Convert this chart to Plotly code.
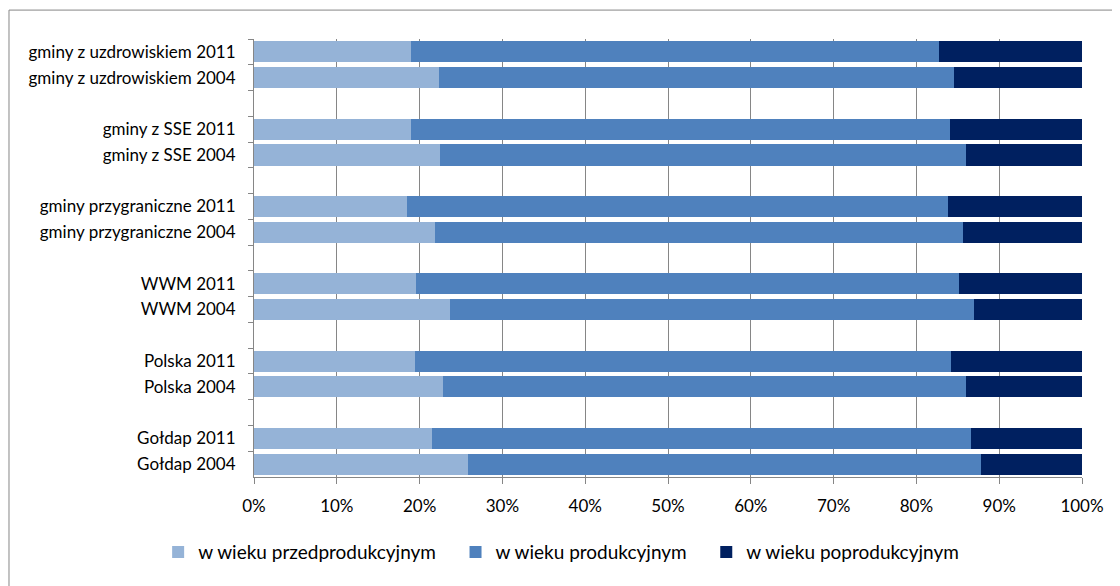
import plotly.graph_objects as go

categories = [
    "gminy z uzdrowiskiem 2011", "gminy z uzdrowiskiem 2004", " ",
    "gminy z SSE 2011", "gminy z SSE 2004", "  ",
    "gminy przygraniczne 2011", "gminy przygraniczne 2004", "   ",
    "WWM 2011", "WWM 2004", "    ",
    "Polska 2011", "Polska 2004", "     ",
    "Gołdap 2011", "Gołdap 2004",
]
pre = [19.0, 22.3, None, 19.0, 22.5, None, 18.5, 21.9, None, 19.6, 23.7, None, 19.4, 22.8, None, 21.5, 25.9]
post = [17.3, 15.5, None, 15.9, 14.0, None, 16.2, 14.4, None, 14.8, 13.1, None, 15.8, 14.0, None, 13.4, 12.2]
prod = [None if a is None else round(100 - a - b, 1) for a, b in zip(pre, post)]

series_names = ["w wieku przedprodukcyjnym", "w wieku produkcyjnym", "w wieku poprodukcyjnym"]
colors = ["#95B3D7", "#4F81BD", "#002060"]
tick_vals = list(range(0, 101, 10))
tick_text = [f"{v}%" for v in tick_vals]

fig = go.Figure()
for name, vals, col in zip(series_names, [pre, prod, post], colors):
    fig.add_trace(go.Bar(
        y=categories, x=vals, name=name + "\u00a0\u00a0\u00a0", orientation="h",
        marker=dict(color=col, line=dict(width=0)),
        hovertemplate="%{y}: %{x}%<extra>" + name + "</extra>",
    ))

font_family = "Lato, 'Liberation Sans', sans-serif"
# page body has an 8px margin, so the figure is sized 1112x578 and offset accordingly
fig.update_layout(
    barmode="stack",
    bargap=0.18,
    width=1112, height=578,
    margin=dict(l=246, r=38, t=31, b=109),
    paper_bgcolor="white", plot_bgcolor="white",
    font=dict(family=font_family, size=17, color="#000000"),
    showlegend=True,
    legend=dict(orientation="h", x=0.38, xanchor="center", y=-0.128, yanchor="top",
                font=dict(size=19), itemwidth=30, traceorder="normal"),
    xaxis=dict(
        range=[0, 100], tickvals=tick_vals, ticktext=tick_text,
        showgrid=True, gridcolor="#868686", gridwidth=1,
        showline=True, linecolor="#868686", linewidth=1,
        ticks="outside", ticklen=6, tickcolor="#868686",
        zeroline=False, fixedrange=True, ticklabelstandoff=8,
    ),
    yaxis=dict(
        type="category", categoryorder="array", categoryarray=categories,
        autorange="reversed",
        showline=True, linecolor="#868686", linewidth=1,
        ticks="outside", ticklen=5, tickcolor="#868686", tickson="boundaries",
        showgrid=False, fixedrange=True, ticklabelstandoff=14,
    ),
    shapes=[
        dict(type="line", xref="paper", yref="paper", x0=-0.2959, x1=1.06, y0=1.066, y1=1.066,
             line=dict(color="#868686", width=1)),
        dict(type="line", xref="paper", yref="paper", x0=-0.2959, x1=-0.2959, y0=1.066, y1=-0.3,
             line=dict(color="#868686", width=1)),
    ],
)

fig.write_html("out.html")
